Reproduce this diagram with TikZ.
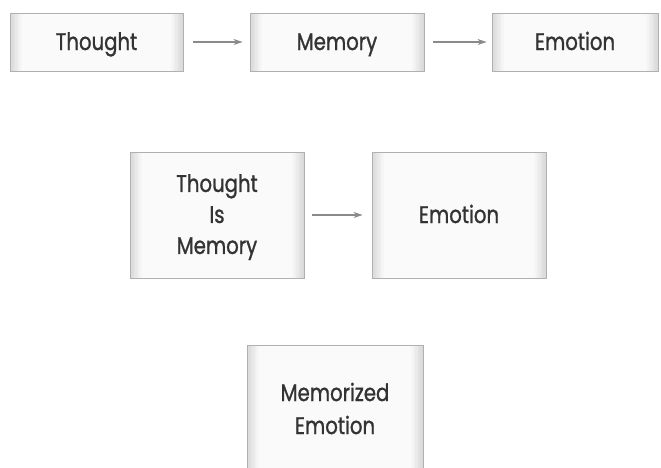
\documentclass[tikz,border=0pt]{standalone}
\usepackage{fontspec}
\setmainfont{Poppins}[FakeBold=1.1, FakeStretch=0.82]
\usetikzlibrary{arrows.meta}
\definecolor{txt}{HTML}{333333}
\definecolor{edge}{HTML}{B0B0B0}
\definecolor{arr}{HTML}{8A8A8A}
\tikzset{
  pillow/.style={draw=edge, line width=0.9pt, minimum width=#1, inner sep=0pt,
    font=\fontsize{24}{31}\selectfont, text=txt, align=center,
    path picture={
      \fill[gray!30] (path picture bounding box.south west) rectangle (path picture bounding box.north east);
      \foreach \i in {1,...,9}{
        \pgfmathsetmacro{\shadeval}{30-2.9*\i}
        \fill[gray!\shadeval]
          ([shift={(1.3*\i pt,-0.6*\i pt)}]path picture bounding box.south west)
          rectangle ([shift={(-1.3*\i pt,0.9*\i pt)}]path picture bounding box.north east);
      }
    }},
  oneline/.style={text height=17pt, text depth=1pt},
  link/.style={draw=arr, line width=1.2pt, -{Stealth[length=9pt,width=6pt]}}
}
\begin{document}
\begin{tikzpicture}[x=1pt,y=-1pt]
\useasboundingbox (0,0) rectangle (661,467);
\node[pillow=173pt, oneline, minimum height=58pt] (t1) at (96.5,42) {Thought};
\node[pillow=174pt, oneline, minimum height=58pt] (m1) at (337,42) {Memory};
\node[pillow=166pt, oneline, minimum height=58pt] (e1) at (575,42) {Emotion};
\node[pillow=174pt, minimum height=126pt] (tm) at (217,215) {\rule{0pt}{22pt}Thought\\Is\\Memory};
\node[pillow=174pt, oneline, minimum height=126pt] (e2) at (459,215) {Emotion};
\node[pillow=176pt, minimum height=127pt, font=\fontsize{24}{33}\selectfont] (me) at (335,408.5) {Memorized\\Emotion};
\draw[link, shorten <=10pt, shorten >=7pt] (t1) -- (m1);
\draw[link, shorten <=9pt, shorten >=5pt] (m1) -- (e1);
\draw[link, shorten <=8pt, shorten >=9pt] (tm) -- (e2);
\end{tikzpicture}
\end{document}
